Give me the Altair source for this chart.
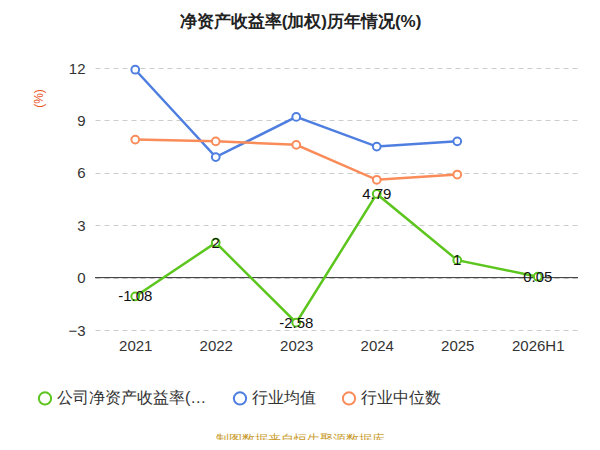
import pandas as pd
import altair as alt

years = ["2021", "2022", "2023", "2024", "2025", "2026H1"]
company = [-1.08, 2, -2.58, 4.79, 1, 0.05]
industry_avg = [11.9, 6.9, 9.2, 7.5, 7.8]
industry_median = [7.9, 7.8, 7.6, 5.6, 5.9]
labels = ["-1.08", "2", "-2.58", "4.79", "1", "0.05"]
series = ["公司净资产收益率(加权)", "行业均值", "行业中位数"]
colors = ["#5cc51e", "#4e7ee0", "#fa8c5a"]

rows = []
for y, v, t in zip(years, company, labels):
    rows.append({"year": y, "value": v, "series": series[0], "label": t})
for y, v in zip(years, industry_avg):
    rows.append({"year": y, "value": v, "series": series[1], "label": ""})
for y, v in zip(years, industry_median):
    rows.append({"year": y, "value": v, "series": series[2], "label": ""})
df = pd.DataFrame(rows)

x = alt.X("year:N", sort=years, title=None,
          scale=alt.Scale(paddingInner=0, paddingOuter=0, align=0.5),
          axis=alt.Axis(labelAngle=0, labelFontSize=15, labelColor="#333",
                        domain=False, ticks=False, labelPadding=8))
y = alt.Y("value:Q", scale=alt.Scale(domain=[-3, 12], nice=False),
          axis=alt.Axis(values=[-3, 0, 3, 6, 9, 12], labelFontSize=15, labelColor="#333",
                        gridDash=[5, 4], gridColor="#ccc", domain=False, ticks=False,
                        title="(%)", titleColor="#e8541d", titleFontSize=12,
                        titleFontWeight="normal", titleAngle=-90, titleX=-50, titleY=30,
                        labelPadding=10))
color = alt.Color("series:N", sort=series,
                  scale=alt.Scale(domain=series, range=colors),
                  legend=alt.Legend(title=None, orient="none", direction="horizontal",
                                    legendX=-58, legendY=322, labelFontSize=16,
                                    labelColor="#333", symbolType="circle",
                                    symbolFillColor="white", symbolStrokeWidth=2,
                                    symbolSize=150, columnPadding=22))

base = alt.Chart(df)
lines = base.mark_line(strokeWidth=2.5).encode(x=x, y=y, color=color)
points = base.mark_point(filled=False, fill="white", fillOpacity=1, size=60,
                         strokeWidth=2, opacity=1).encode(x=x, y=y, color=color)
text = base.transform_filter(alt.datum.label != "").mark_text(
    fontSize=15, color="#111").encode(x=x, y=y, text="label:N")
zero = alt.Chart(pd.DataFrame({"v": [0]})).mark_rule(color="#333", strokeWidth=1).encode(y="v:Q")
source = alt.Chart(pd.DataFrame({"t": ["制图数据来自恒生聚源数据库"]})).mark_text(
    fontSize=13, color="#c89a2c").encode(x=alt.value(205), y=alt.value(372), text="t:N")

chart = alt.layer(zero, lines, points, text, source).properties(
    width=483, height=262,
    autosize=alt.AutoSizeParams(type="none"),
    padding={"left": 87, "top": 60, "right": 14, "bottom": 110},
    title=alt.Title("净资产收益率(加权)历年情况(%)", fontSize=17, fontWeight="bold",
                    color="#222", anchor="middle", dx=-36, offset=30),
).configure_view(strokeWidth=0)

chart.save("out.html", embed_options={"renderer": "svg", "actions": False})
